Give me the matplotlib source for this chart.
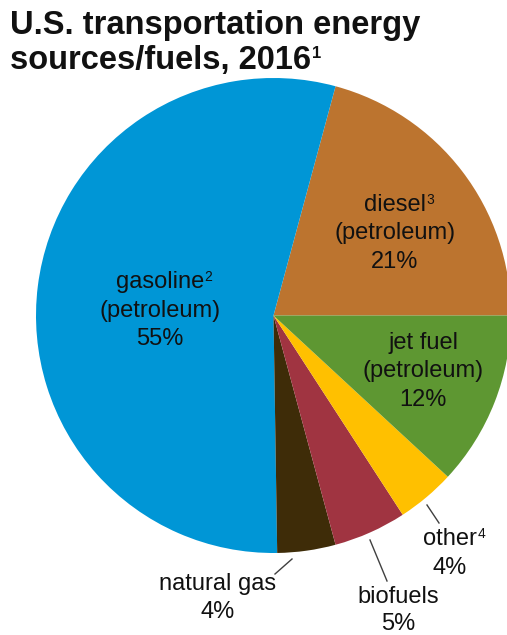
import matplotlib.pyplot as plt

plt.rcParams['font.family'] = ['Liberation Sans', 'DejaVu Sans']

# data (percent)
fuels = ["diesel", "gasoline", "natural gas", "biofuels", "other", "jet fuel"]
shares = [21, 55, 4, 5, 4, 12]
colors = ["#BC742F", "#0096D6", "#3E2C08", "#A03441", "#FFC000", "#5E9732"]
notes = ["3", "2", "", "", "4", ""]
petroleum = [True, True, False, False, False, True]

W, H = 507, 635
fig = plt.figure(figsize=(W / 100, H / 100), dpi=100)
ax = fig.add_axes([0, 0, 1, 1])

# pie in pixel coords (y flipped: H - y)
cx, cy, r = 273.5, 315.5, 237.5
ax.pie(shares, colors=colors, startangle=0, counterclock=True,
       center=(cx, H - cy), radius=r, normalize=True,
       wedgeprops=dict(linewidth=0))
ax.set_xlim(0, W)
ax.set_ylim(0, H)
ax.set_aspect('equal')
ax.axis('off')

# label layout (x, y of first line) in pixel coords
lab_pos = {
    "diesel": (395, 205),
    "gasoline": (160, 282),
    "jet fuel": (423, 343),
    "natural gas": (218, 584),
    "biofuels": (398, 597),
    "other": (450, 539),
}
leaders = {
    "natural gas": ((292, 559), (275, 574)),
    "biofuels": ((370, 540), (387, 581)),
    "other": ((427, 505), (439, 523)),
}
step = 28.5
fs = 17
ink = '#111111'

for name, val, note, pet in zip(fuels, shares, notes, petroleum):
    x, y = lab_pos[name]
    lines = [name]
    if pet:
        lines.append("(petroleum)")
    lines.append(f"{val}%")
    step_i = 26.5 if name == "biofuels" else step
    for i, s in enumerate(lines):
        t = ax.text(x, H - (y + i * step_i), s, ha='center', va='center',
                    fontsize=fs, color=ink)
        if i == 0 and note:
            fig.canvas.draw()
            bb = t.get_window_extent()
            ax.text(bb.x1 + 0.5, H - y + 12, note, ha='left', va='top',
                    fontsize=10, color=ink)
    if name in leaders:
        (x0, y0), (x1, y1) = leaders[name]
        ax.plot([x0, x1], [H - y0, H - y1], color='#404040', lw=1)

# title
fig.text(10, H - 34, "U.S. transportation energy", transform=None,
         fontsize=23.5, fontweight='bold', ha='left', va='baseline', color=ink)
t2 = fig.text(10, H - 69, "sources/fuels, 2016", transform=None,
              fontsize=23.5, fontweight='bold', ha='left', va='baseline', color=ink)
fig.canvas.draw()
bb = t2.get_window_extent()
fig.text(bb.x1 + 1, H - 58, "1", transform=None, fontsize=12,
         fontweight='bold', ha='left', va='baseline', color=ink)

fig.savefig("out.png", dpi=100)
